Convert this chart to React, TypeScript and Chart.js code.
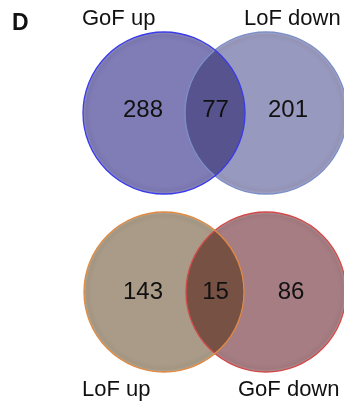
import React, { useEffect, useRef } from "react";
import { Chart, registerables } from "chart.js";

Chart.register(...registerables);

// Venn pairs: top pair and bottom pair
const leftLabels = ["GoF up", "LoF up"];
const rightLabels = ["LoF down", "GoF down"];
const leftOnly = [288, 143];
const shared = [77, 15];
const rightOnly = [201, 86];

// Geometry in data units (x: 0..344, y: 0..402)
const leftCx = [164, 164];
const rightCx = [266, 266];
const centerY = [113, 292];
const radius = [81, 80];
const numberX = [143, 215.5, 288];
const numberY = [109, 291];

// styles
const leftFill = ["#7f7cb6", "#a99b87"];
const rightFill = ["#9899be", "#a67d82"];
const overlapFill = ["#57538f", "#775244"];
const leftStroke = ["#3a3ae8", "#e08a42"];
const rightStroke = ["#7c8fc8", "#d24a4a"];

const FONT = "'Liberation Sans', Arial, Helvetica, sans-serif";

function shade(hex: string, amt: number) {
  const n = parseInt(hex.slice(1), 16);
  let r = (n >> 16) & 255, g = (n >> 8) & 255, b = n & 255;
  const f = (c: number) => Math.max(0, Math.min(255, Math.round(amt < 0 ? c * (1 + amt) : c + (255 - c) * amt)));
  return `rgb(${f(r)},${f(g)},${f(b)})`;
}

const vennPlugin = {
  id: "venn",
  afterDatasetsDraw(chart: any) {
    const { ctx, scales } = chart;
    const xs = scales.x, ys = scales.y;
    const px = (v: number) => xs.getPixelForValue(v);
    const py = (v: number) => ys.getPixelForValue(v);
    const pr = (v: number) => Math.abs(xs.getPixelForValue(v) - xs.getPixelForValue(0));

    ctx.save();
    for (let i = 0; i < leftOnly.length; i++) {
      const lx = px(leftCx[i]), rx = px(rightCx[i]), cy = py(centerY[i]), r = pr(radius[i]);
      const circ = (cx: number) => { ctx.beginPath(); ctx.arc(cx, cy, r, 0, Math.PI * 2); };
      const grad = (cx: number, col: string) => {
        const g = ctx.createRadialGradient(cx, cy, 0, cx, cy, r);
        g.addColorStop(0, col);
        g.addColorStop(0.9, col);
        g.addColorStop(0.965, shade(col, -0.04));
        g.addColorStop(1, shade(col, 0.12));
        return g;
      };
      // left circle
      circ(lx); ctx.fillStyle = grad(lx, leftFill[i]); ctx.fill();
      // right circle
      circ(rx); ctx.fillStyle = grad(rx, rightFill[i]); ctx.fill();
      // overlap
      ctx.save();
      circ(lx); ctx.clip();
      circ(rx); ctx.fillStyle = overlapFill[i]; ctx.fill();
      ctx.restore();
      // borders
      ctx.lineWidth = 1.3;
      circ(rx); ctx.strokeStyle = rightStroke[i]; ctx.stroke();
      circ(lx); ctx.strokeStyle = leftStroke[i]; ctx.stroke();

      // numbers
      ctx.fillStyle = "#111";
      ctx.font = `24px ${FONT}`;
      ctx.textAlign = "center";
      ctx.textBaseline = "middle";
      const vals = [leftOnly[i], shared[i], rightOnly[i]];
      vals.forEach((v, k) => ctx.fillText(String(v), px(numberX[k] + (i === 1 && k === 2 ? 3 : 0)), py(numberY[i]) + 1));
    }

    // set labels
    ctx.font = `22px ${FONT}`;
    ctx.textAlign = "left";
    ctx.textBaseline = "alphabetic";
    ctx.fillStyle = "#111";
    ctx.fillText(leftLabels[0], px(82), py(25));
    ctx.fillText(rightLabels[0], px(244), py(25));
    ctx.fillText(leftLabels[1], px(82), py(396));
    ctx.fillText(rightLabels[1], px(238), py(396));

    // panel letter
    ctx.font = `bold 23px ${FONT}`;
    ctx.fillText("D", px(12), py(30));
    ctx.restore();
  },
};

export default function App() {
  const ref = useRef<HTMLCanvasElement>(null);
  useEffect(() => {
    if (!ref.current) return;
    const chart = new Chart(ref.current, {
      type: "scatter",
      data: { datasets: [{ data: [], pointRadius: 0 }] },
      options: {
        animation: false,
        responsive: false,
        maintainAspectRatio: false,
        layout: { padding: 0 },
        plugins: { legend: { display: false }, tooltip: { enabled: false } },
        scales: {
          x: { type: "linear", min: 0, max: 344, display: false },
          y: { type: "linear", min: 0, max: 402, reverse: true, display: false },
        },
      },
      plugins: [vennPlugin],
    });
    return () => chart.destroy();
  }, []);
  return (
    <div style={{ position: "absolute", left: 0, top: 0, width: 344, height: 402, background: "#fff" }}>
      <canvas ref={ref} width={344} height={402} style={{ display: "block" }} />
    </div>
  );
}
